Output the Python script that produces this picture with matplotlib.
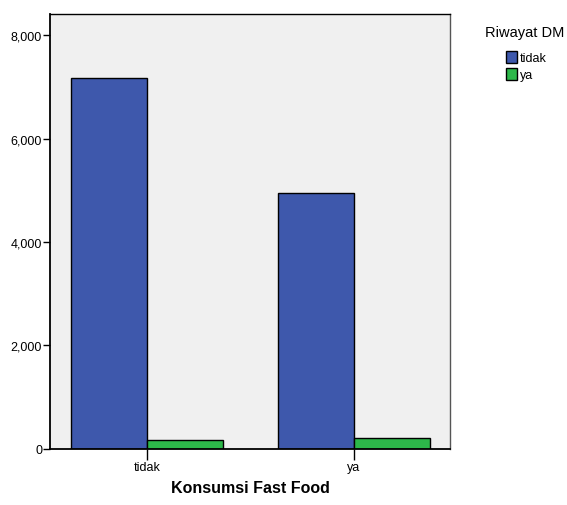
import numpy as np
import matplotlib.pyplot as plt

plt.rcParams['font.family'] = ['Liberation Sans', 'DejaVu Sans']

categories = ['tidak', 'ya']
groups = ['tidak', 'ya']
counts_tidak = [7163, 4941]
counts_ya = [180, 218]
colors = ['#3E58AC', '#2DB84A']

fig = plt.figure(figsize=(5.67, 5.06), dpi=100)
ax = fig.add_axes([0.089, 0.111, 0.705, 0.859])
ax.set_facecolor('#F0F0F0')

x = np.arange(len(categories))
w = 0.367
ax.bar(x - w / 2, counts_tidak, w, color=colors[0], edgecolor='black', linewidth=1, label=groups[0])
ax.bar(x + w / 2, counts_ya, w, color=colors[1], edgecolor='black', linewidth=1, label=groups[1])

ax.set_xlim(-0.465, 1.465)
ax.set_ylim(0, 8406)
ax.set_yticks([0, 2000, 4000, 6000, 8000])
ax.set_yticklabels(['0', '2,000', '4,000', '6,000', '8,000'])
ax.set_xticks(x)
ax.set_xticklabels(categories)
ax.tick_params(axis='y', length=5, width=1, labelsize=9, pad=1)
ax.tick_params(axis='x', length=8, width=1, labelsize=9, pad=1)

for s in ax.spines.values():
    s.set_linewidth(1)
ax.spines['right'].set_color('#555555')
ax.spines['left'].set_linewidth(1.3)
ax.spines['bottom'].set_linewidth(1.3)

fig.text(0.441, 0.02, 'Konsumsi Fast Food', fontsize=11.5, fontweight='bold',
         ha='center', va='bottom')

# legend title placed separately to match the wider gap
fig.text(0.925, 1 - 33 / 506, 'Riwayat DM', fontsize=10.5, ha='center', va='center')
leg = fig.legend(loc='upper left', bbox_to_anchor=(0.892, 1 - 52 / 506),
                 frameon=False, fontsize=9,
                 handlelength=0.9, handleheight=1.1, handletextpad=0.2,
                 labelspacing=0.3, borderaxespad=0, borderpad=0)

fig.savefig('out.png', dpi=100)
